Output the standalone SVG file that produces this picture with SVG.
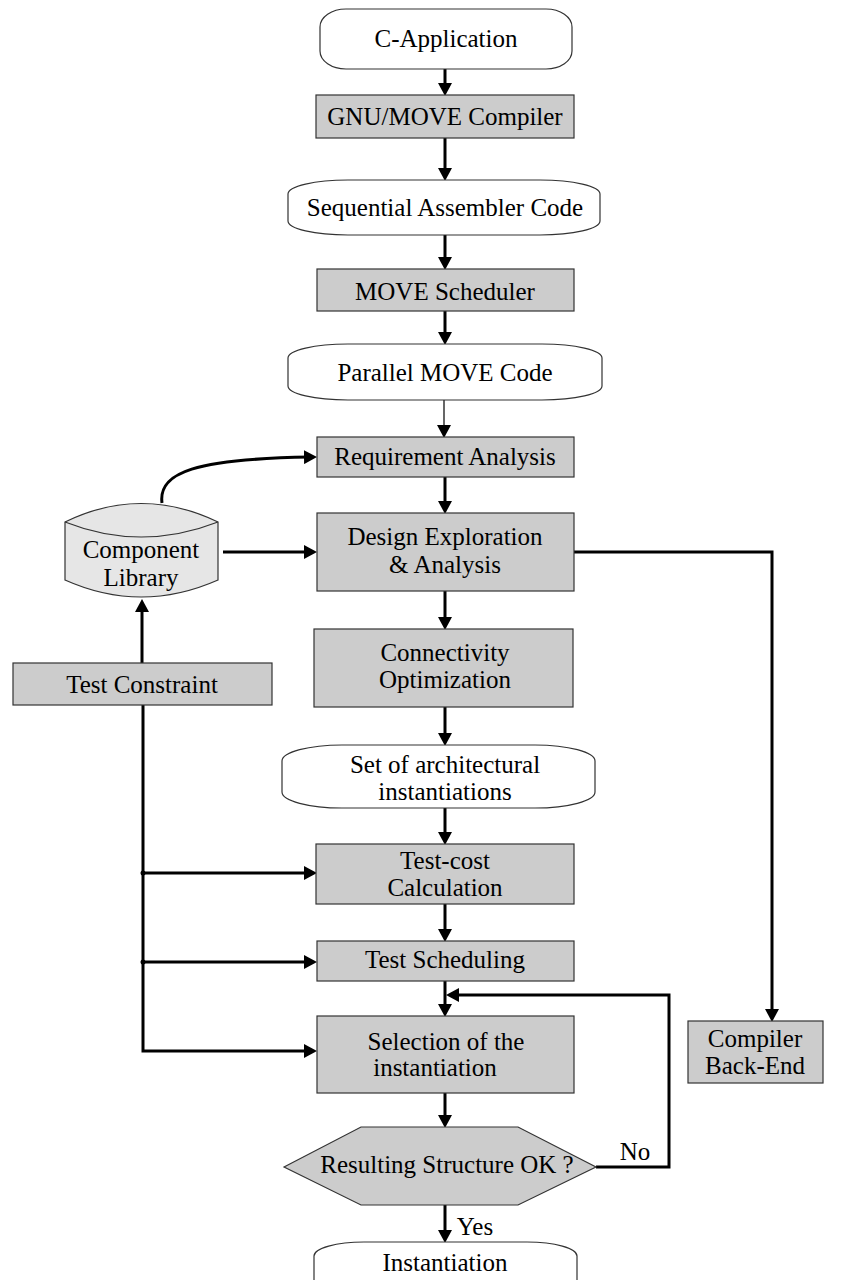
<svg xmlns="http://www.w3.org/2000/svg" width="842" height="1280" viewBox="0 0 842 1280">
  <style>
    text { font-family: "Liberation Serif", "Times New Roman", serif; font-size: 25px; fill: #000; text-anchor: middle; }
    .box { fill: #cccccc; stroke: #333; stroke-width: 1.2; }
    .term { fill: #fff; stroke: #333; stroke-width: 1.2; }
    .lib { fill: #e6e6e6; stroke: #333; stroke-width: 1.2; }
    .wire { fill: none; stroke: #000; stroke-width: 3; }
    .thin { fill: none; stroke: #000; stroke-width: 1.2; }
  </style>
  <defs>
    <marker id="head" markerUnits="userSpaceOnUse" markerWidth="13" markerHeight="14" refX="6" refY="7" orient="auto">
      <path d="M0,0 L13,7 L0,14 z" fill="#000"/>
    </marker>
  </defs>
  <rect width="842" height="1280" fill="#fff"/>

  <!-- connectors -->
  <g id="connectors">
    <line class="wire" x1="445" y1="69" x2="445" y2="89" marker-end="url(#head)"/>
    <line class="wire" x1="445" y1="138" x2="445" y2="174" marker-end="url(#head)"/>
    <line class="wire" x1="445" y1="235" x2="445" y2="263" marker-end="url(#head)"/>
    <line class="wire" x1="445" y1="311" x2="445" y2="338" marker-end="url(#head)"/>
    <line class="thin" x1="444" y1="400" x2="444" y2="431" marker-end="url(#head)"/>
    <line class="wire" x1="445" y1="477" x2="445" y2="507" marker-end="url(#head)"/>
    <line class="wire" x1="445" y1="591" x2="445" y2="623" marker-end="url(#head)"/>
    <line class="wire" x1="445" y1="707" x2="445" y2="739" marker-end="url(#head)"/>
    <line class="wire" x1="445" y1="808" x2="445" y2="838" marker-end="url(#head)"/>
    <line class="wire" x1="445" y1="904" x2="445" y2="935" marker-end="url(#head)"/>
    <line class="wire" x1="445" y1="981" x2="445" y2="1010" marker-end="url(#head)"/>
    <line class="wire" x1="445" y1="1093" x2="445" y2="1121" marker-end="url(#head)"/>
    <line class="wire" x1="445" y1="1205" x2="445" y2="1236" marker-end="url(#head)"/>
    <!-- retry loop -->
    <polyline class="wire" points="596,1167 669,1167 669,995 453,995" marker-end="url(#head)"/>
    <!-- design exploration to compiler back-end -->
    <polyline class="wire" points="574,552 772,552 772,1015" marker-end="url(#head)"/>
    <!-- component library links -->
    <line class="wire" x1="223" y1="552" x2="310" y2="552" marker-end="url(#head)"/>
    <path class="wire" d="M162,503 C158,472 196,459 310,457" marker-end="url(#head)"/>
    <line class="wire" x1="142" y1="663" x2="142" y2="606" marker-end="url(#head)"/>
    <!-- test constraint fan-out -->
    <polyline class="wire" points="143,705 143,1051 310,1051" marker-end="url(#head)"/>
    <line class="wire" x1="143" y1="873" x2="310" y2="873" marker-end="url(#head)"/>
    <line class="wire" x1="143" y1="962" x2="310" y2="962" marker-end="url(#head)"/>
    <circle cx="143" cy="873" r="2.5" fill="#000"/>
    <circle cx="143" cy="962" r="2.5" fill="#000"/>
  </g>

  <g id="c-application">
    <rect class="term" x="320" y="9" width="252" height="60" rx="26" ry="18"/>
    <text x="446" y="47">C-Application</text>
  </g>
  <g id="gnu-move-compiler">
    <rect class="box" x="316" y="95" width="258" height="43"/>
    <text x="445" y="125">GNU/MOVE Compiler</text>
  </g>
  <g id="sequential-code">
    <rect class="term" x="288" y="180" width="312" height="55" rx="60" ry="14"/>
    <text x="445" y="216">Sequential Assembler Code</text>
  </g>
  <g id="move-scheduler">
    <rect class="box" x="317" y="269" width="257" height="42"/>
    <text x="445" y="300">MOVE Scheduler</text>
  </g>
  <g id="parallel-code">
    <rect class="term" x="288" y="344" width="314" height="56" rx="60" ry="14"/>
    <text x="445" y="381">Parallel MOVE Code</text>
  </g>
  <g id="requirement-analysis">
    <rect class="box" x="317" y="437" width="257" height="40"/>
    <text x="445" y="465">Requirement Analysis</text>
  </g>
  <g id="component-library">
    <path class="lib" d="M65,522 Q141,485 218,522 L218,580 Q141,614 65,580 Z"/>
    <path class="thin" style="stroke:#333" d="M65,522 Q141,552 218,522"/>
    <text x="141" y="558">Component</text>
    <text x="141" y="586">Library</text>
  </g>
  <g id="design-exploration">
    <rect class="box" x="317" y="513" width="257" height="78"/>
    <text x="445" y="545">Design Exploration</text>
    <text x="445" y="573">&amp; Analysis</text>
  </g>
  <g id="test-constraint">
    <rect class="box" x="13" y="663" width="259" height="42"/>
    <text x="142" y="693">Test Constraint</text>
  </g>
  <g id="connectivity-optimization">
    <rect class="box" x="314" y="629" width="259" height="78"/>
    <text x="445" y="661">Connectivity</text>
    <text x="445" y="688">Optimization</text>
  </g>
  <g id="architectural-set">
    <rect class="term" x="282" y="745" width="313" height="63" rx="60" ry="16"/>
    <text x="445" y="773">Set of architectural</text>
    <text x="445" y="800">instantiations</text>
  </g>
  <g id="test-cost">
    <rect class="box" x="316" y="844" width="258" height="60"/>
    <text x="445" y="869">Test-cost</text>
    <text x="445" y="896">Calculation</text>
  </g>
  <g id="test-scheduling">
    <rect class="box" x="317" y="941" width="257" height="40"/>
    <text x="445" y="968">Test Scheduling</text>
  </g>
  <g id="selection">
    <rect class="box" x="317" y="1016" width="257" height="77"/>
    <text x="446" y="1050">Selection of the</text>
    <text x="435" y="1076">instantiation</text>
  </g>
  <g id="structure-check">
    <polygon class="box" points="284,1167 361,1127 518,1127 596,1167 518,1205 361,1205"/>
    <text x="447" y="1173">Resulting Structure OK ?</text>
    <text x="635" y="1160">No</text>
    <text x="475" y="1235">Yes</text>
  </g>
  <g id="instantiation">
    <rect class="term" x="314" y="1242" width="263" height="56" rx="50" ry="14"/>
    <text x="445" y="1271">Instantiation</text>
  </g>
  <g id="compiler-back-end">
    <rect class="box" x="688" y="1021" width="135" height="62"/>
    <text x="755" y="1047">Compiler</text>
    <text x="755" y="1074">Back-End</text>
  </g>
</svg>
